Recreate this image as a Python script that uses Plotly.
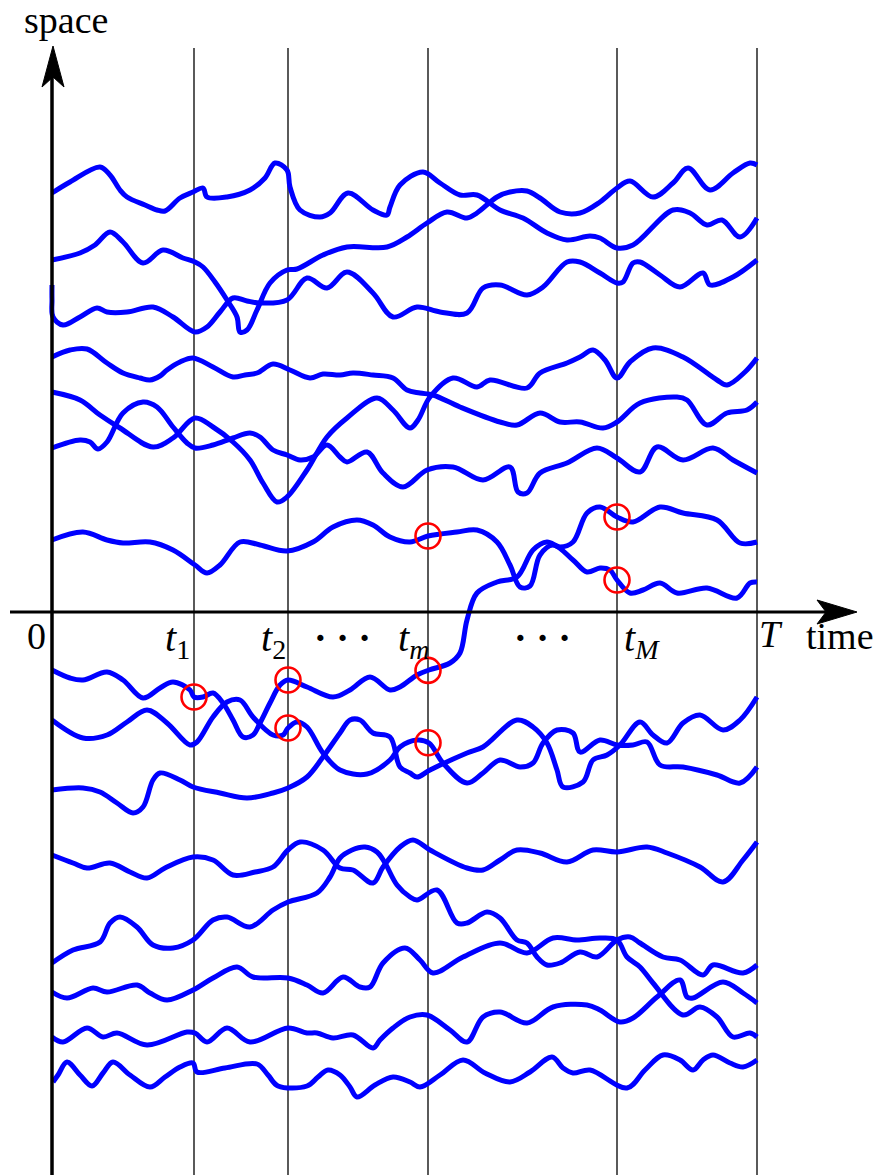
import numpy as np
import plotly.graph_objects as go

# ---------------- data (time, space) ----------------
TIME_MARKS = [142, 236, 376, 565]          # t1, t2, tm, tM
T_END = 705
MARK_LABELS = ["<i>t</i><sub>1</sub>", "<i>t</i><sub>2</sub>",
               "<i>t</i><sub><i>m</i></sub>", "<i>t</i><sub><i>M</i></sub>"]

A_t = [0,18,48,58,68,75,93,105,113,128,141,151,155,175,198,213,223,235,238,248,268,278,296,321,335,338,348,371,388,408,425,448,471,495,515,538,548,565,581,621,638,655,670,688,705]
A_s = [419,430,445,437,422,415,407,402,401,414,420,424,415,415,422,434,449,442,425,402,395,399,419,402,397,405,427,440,429,417,417,402,394,379,372,376,374,364,367,402,399,387,392,375,394]

B_t = [0,28,43,58,71,91,111,131,143,151,163,175,185,188,195,205,218,235,245,271,295,335,355,375,395,415,425,445,458,475,488,508,528,548,565,578,601,621,636,658,681,698,705]
B_s = [352,359,367,380,370,349,362,354,350,345,330,312,295,280,282,302,329,342,343,357,365,365,375,389,400,394,399,415,420,421,414,400,399,410,424,431,415,429,444,422,439,449,447]

C_t = [0,0,1,11,28,45,55,75,101,121,143,155,168,181,195,208,235,255,275,295,321,341,365,388,415,431,448,475,491,515,528,548,565,571,581,588,608,628,651,658,681,705]
C_s = [327,312,295,287,295,304,300,300,305,295,280,285,300,314,311,309,312,334,324,340,319,295,305,300,299,324,327,317,325,350,350,339,329,330,349,350,337,325,339,327,335,352]

D_t = [0,18,35,55,71,88,98,108,115,128,141,161,181,193,205,221,238,258,271,288,301,321,341,355,368,381,408,448,465,488,508,528,551,565,588,625,635,655,675,695,705]
D_s = [255,262,263,249,239,234,232,236,242,250,254,245,235,237,239,248,242,234,238,237,239,237,234,222,219,217,205,190,187,199,190,190,184,190,209,215,212,187,199,202,210]

E_t = [0,28,48,68,101,121,143,161,181,198,211,225,235,255,275,295,325,341,358,366,378,401,425,438,475,488,515,528,541,553,565,578,601,631,665,675,693,705]
E_s = [220,212,197,184,165,174,194,185,170,152,129,110,115,142,175,194,214,202,184,192,215,234,225,232,224,239,249,255,262,252,234,250,264,255,232,227,240,254]

F_t = [0,28,38,46,55,71,91,105,121,135,143,161,181,198,208,221,235,248,261,275,288,295,315,331,351,375,401,431,458,466,475,488,515,545,565,588,605,631,661,681,705]
F_s = [164,172,170,163,170,199,210,205,185,169,164,167,174,179,175,162,157,152,155,167,155,150,160,139,125,142,145,132,145,120,119,139,149,164,154,140,165,152,164,152,139]

G_t = [0,31,55,71,98,121,143,155,168,188,208,235,261,281,305,321,338,358,376,405,425,445,458,468,478,488,501,521,535,548,558,565,578,591,608,625,655,685,698,705]
G_s = [72,80,72,69,70,62,47,39,47,70,67,61,70,85,92,87,75,70,76,80,82,70,47,25,26,57,67,52,40,44,42,32,19,22,29,19,24,14,29,30]

I_t = [0,18,31,55,71,91,108,121,138,142,151,161,171,181,191,201,208,218,228,236,255,281,298,318,338,348,365,377,398,408,415,425,445,465,481,495,508,521,535,548,565,581,608,631,665,688,705]
I_s = [-58,-66,-68,-60,-68,-86,-76,-70,-78,-85,-85,-81,-91,-108,-125,-123,-111,-91,-73,-68,-75,-85,-78,-65,-78,-75,-63,-58,-51,-41,-8,19,30,35,62,70,65,70,99,105,95,90,105,99,92,69,70]

J_t = [0,31,55,75,95,115,138,145,161,175,188,201,221,231,236,245,255,271,288,315,338,348,365,377,391,415,431,448,468,481,491,505,521,528,548,565,581,595,608,631,665,688,705]
J_s = [-108,-126,-123,-110,-98,-111,-133,-130,-105,-90,-88,-105,-123,-123,-116,-110,-115,-141,-158,-162,-148,-135,-128,-131,-151,-171,-161,-148,-155,-151,-131,-118,-121,-140,-128,-133,-133,-130,-153,-155,-163,-171,-155]

K_t = [0,31,48,65,81,91,101,108,128,141,168,195,221,236,255,271,288,298,308,321,338,348,358,365,378,415,431,465,481,495,505,511,531,541,555,568,588,601,615,631,648,671,688,705]
K_s = [-178,-176,-180,-191,-201,-195,-168,-161,-168,-175,-181,-186,-181,-176,-165,-145,-121,-108,-108,-121,-125,-155,-161,-165,-158,-141,-135,-108,-115,-131,-158,-175,-170,-148,-143,-133,-110,-123,-131,-111,-103,-118,-108,-85]

M_t = [0,21,35,58,78,95,113,141,161,181,203,221,236,248,271,288,301,321,331,348,361,378,415,431,448,465,488,515,541,565,595,615,648,671,691,705]
M_s = [-243,-251,-256,-251,-260,-266,-256,-245,-248,-263,-260,-255,-238,-230,-238,-256,-258,-271,-255,-235,-228,-238,-256,-258,-248,-238,-241,-250,-238,-240,-235,-241,-255,-270,-248,-230]

N_t = [0,21,48,58,68,85,101,121,141,161,175,198,221,236,265,278,288,300,313,325,333,345,358,365,385,405,415,435,448,465,475,485,495,508,528,545,565,578,588,611,628,651,661,691,705]
N_s = [-351,-338,-330,-311,-305,-315,-333,-336,-328,-308,-305,-315,-298,-290,-281,-265,-246,-238,-235,-240,-251,-273,-285,-288,-278,-311,-311,-300,-306,-328,-331,-345,-353,-351,-340,-345,-328,-325,-331,-345,-348,-363,-353,-361,-353]

O_t = [0,15,41,55,85,98,115,141,161,185,201,236,255,271,291,308,318,331,353,368,381,411,448,475,501,525,548,565,575,588,601,631,648,665,681,698,705]
O_s = [-380,-386,-376,-380,-373,-381,-388,-378,-366,-355,-365,-366,-373,-381,-365,-375,-375,-351,-336,-348,-361,-345,-331,-341,-326,-328,-326,-328,-345,-355,-371,-403,-395,-405,-425,-421,-425]

P_t = [0,11,35,51,65,95,135,143,155,175,198,236,255,265,281,301,321,328,341,358,375,398,415,431,448,475,501,535,548,568,581,605,628,635,641,671,691,705]
P_s = [-425,-430,-416,-425,-421,-433,-420,-421,-430,-416,-430,-416,-421,-421,-426,-423,-436,-428,-416,-405,-403,-418,-430,-405,-400,-411,-395,-393,-398,-410,-406,-385,-368,-385,-386,-370,-381,-391]

Q_t = [1,6,15,28,40,51,61,78,98,113,128,141,145,173,205,216,226,255,266,276,288,298,305,323,341,358,368,388,411,433,458,478,500,511,521,538,575,593,611,628,641,651,661,678,691,705]
Q_s = [-470,-463,-450,-463,-474,-461,-450,-463,-475,-465,-455,-451,-460,-456,-452,-463,-474,-474,-465,-458,-463,-475,-485,-473,-465,-470,-475,-463,-448,-461,-470,-460,-445,-456,-461,-458,-476,-458,-443,-448,-458,-448,-443,-451,-455,-448]

CURVES = [(A_t, A_s), (B_t, B_s), (C_t, C_s), (D_t, D_s), (E_t, E_s), (F_t, F_s),
          (G_t, G_s), (I_t, I_s), (J_t, J_s), (K_t, K_s), (M_t, M_s), (N_t, N_s),
          (O_t, O_s), (P_t, P_s), (Q_t, Q_s)]

# highlighted samples: (curve, time-mark index)
CIRCLES = [("I", 0), ("I", 1), ("J", 1), ("G", 2), ("I", 2), ("J", 2), ("I", 3), ("G", 3)]
NAMED = {"G": (G_t, G_s), "I": (I_t, I_s), "J": (J_t, J_s)}

# ---------------- figure ----------------
fig = go.Figure()
BLUE = "#0000ff"
for t, s in CURVES:
    fig.add_trace(go.Scatter(x=t, y=s, mode="lines",
                             line=dict(color=BLUE, width=5, shape="spline", smoothing=1.0),
                             hoverinfo="skip"))

cx, cy = [], []
for name, k in CIRCLES:
    t, s = NAMED[name]
    tt = TIME_MARKS[k]
    cx.append(tt)
    cy.append(float(np.interp(tt, t, s)))
fig.add_trace(go.Scatter(x=cx, y=cy, mode="markers",
                         marker=dict(symbol="circle-open", size=25, color="#ff0000",
                                     line=dict(width=2.6, color="#ff0000")),
                         hoverinfo="skip"))

XMIN, XMAX = -52, 824
YMIN, YMAX = -563, 612

shapes = []
for tt in TIME_MARKS + [T_END]:
    shapes.append(dict(type="line", x0=tt, x1=tt, y0=YMIN, y1=564,
                       line=dict(color="black", width=1.3), layer="below"))
# space axis
shapes.append(dict(type="line", x0=0, x1=0, y0=YMIN, y1=540, line=dict(color="black", width=3.5)))
# time axis
shapes.append(dict(type="line", x0=-42, x1=780, y0=0, y1=0, line=dict(color="black", width=3)))
# arrow heads
shapes.append(dict(type="path", path="M 1 566 L -10 525 L 1 535 L 12 525 Z",
                   fillcolor="black", line=dict(color="black", width=1)))
shapes.append(dict(type="path", path="M 805 0 L 765 12 L 774 0 L 765 -12 Z",
                   fillcolor="black", line=dict(color="black", width=1)))

SERIF = "Liberation Serif, Times New Roman, serif"
ann = []
ann.append(dict(x=14, y=592, text="space", showarrow=False, font=dict(family=SERIF, size=38, color="black")))
ann.append(dict(x=752, y=-24, text="time", xanchor="left", showarrow=False,
                font=dict(family=SERIF, size=38, color="black")))
ann.append(dict(x=-16, y=-24, text="0", showarrow=False, font=dict(family=SERIF, size=38, color="black")))
ann.append(dict(x=719, y=-22, text="<i>T</i>", showarrow=False, font=dict(family=SERIF, size=38, color="black")))
label_x = [125, 221, 361, 590]
for lx, lab in zip(label_x, MARK_LABELS):
    ann.append(dict(x=lx, y=-28, text=lab, showarrow=False, font=dict(family=SERIF, size=40, color="black")))
for dx in [290, 490]:
    ann.append(dict(x=dx, y=-26, text="<b>· · ·</b>", showarrow=False,
                    font=dict(family=SERIF, size=38, color="black")))

fig.update_layout(
    width=876, height=1175, margin=dict(l=0, r=0, t=0, b=0),
    paper_bgcolor="white", plot_bgcolor="white", showlegend=False,
    xaxis=dict(range=[XMIN, XMAX], visible=False, fixedrange=True),
    yaxis=dict(range=[YMIN, YMAX], visible=False, fixedrange=True),
    shapes=shapes, annotations=ann,
)
fig.write_html("out.html")
